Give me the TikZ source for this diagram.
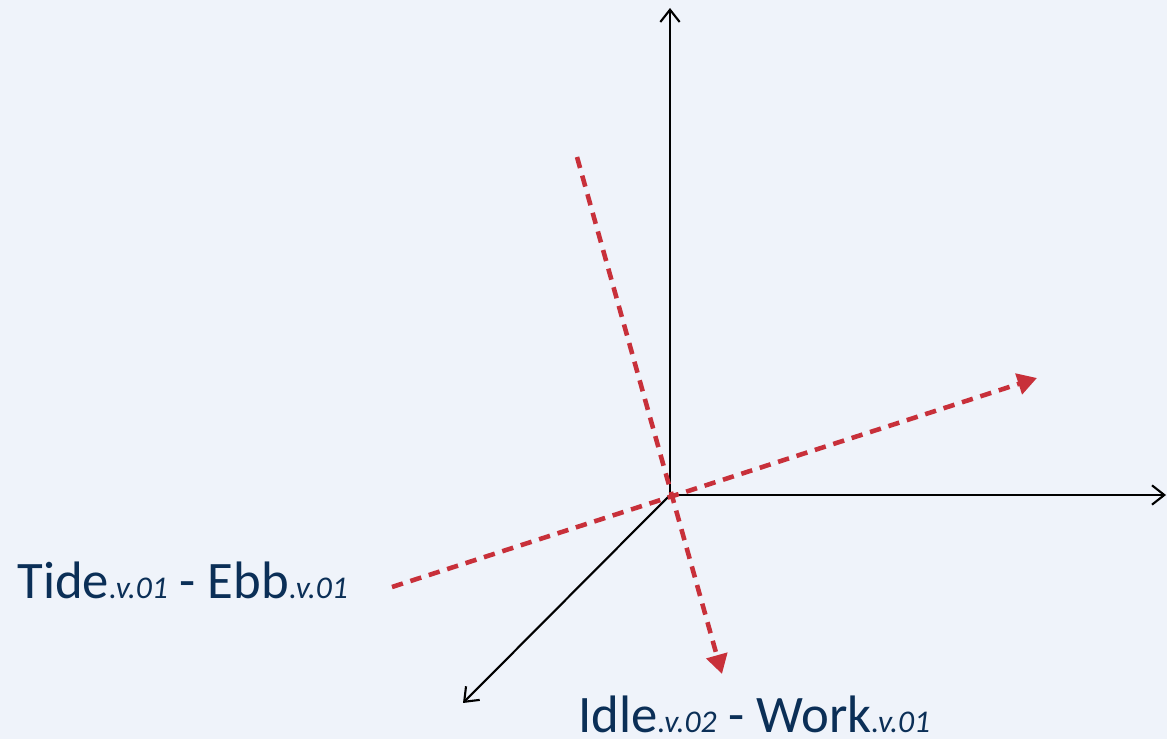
\documentclass[tikz,border=0pt]{standalone}
\usepackage{fontspec}
\setmainfont{Carlito}
\usetikzlibrary{arrows.meta}
\definecolor{bgblue}{HTML}{EFF3FA}
\definecolor{sensered}{HTML}{C8303A}
\definecolor{navy}{HTML}{0B2F57}
\newcommand{\vtag}[1]{{\fontsize{18}{20}\selectfont\itshape #1}}
\begin{document}
\begin{tikzpicture}[
                x=0.02cm, y=-0.02cm,
                axis/.style={line width=1.2pt, -{Straight Barb[length=7pt, width=11pt, line width=1.2pt]}},
                sense/.style={sensered, line width=2.6pt, dash pattern=on 6.5pt off 4.5pt, -{Triangle[length=11pt, width=12pt]}},
                lbl/.style={text=navy, inner sep=0pt, anchor=base west, font=\fontsize{30}{36}\selectfont},
            ]
            \useasboundingbox[fill=bgblue] (0,0) rectangle (1167,739);
            % Ejes
            \coordinate (o) at (670,495);
            \coordinate (ya) at (670,8);
            \coordinate (xa) at (1166,495);
            \coordinate (za) at (463,703);
            \draw[axis] (o) -- (ya);
            \draw[axis] (o) -- (xa);
            \draw[axis] (o) -- (za);

            % Sentidos
            \coordinate (s1) at (392,587); \coordinate (e1) at (1037,378);
            \coordinate (s2) at (577,157); \coordinate (e2) at (722,674);
            \draw[sense] (s1) -- (e1);
            \draw[sense] (s2) -- (e2);

            % Etiquetas
            \node[lbl] (tide) at (17,599) {Tide\vtag{.v.01} - Ebb\vtag{.v.01}};
            \node[lbl] (idle) at (578,732) {Idle\vtag{.v.02} - Work\vtag{.v.01}};
        \end{tikzpicture}
\end{document}
